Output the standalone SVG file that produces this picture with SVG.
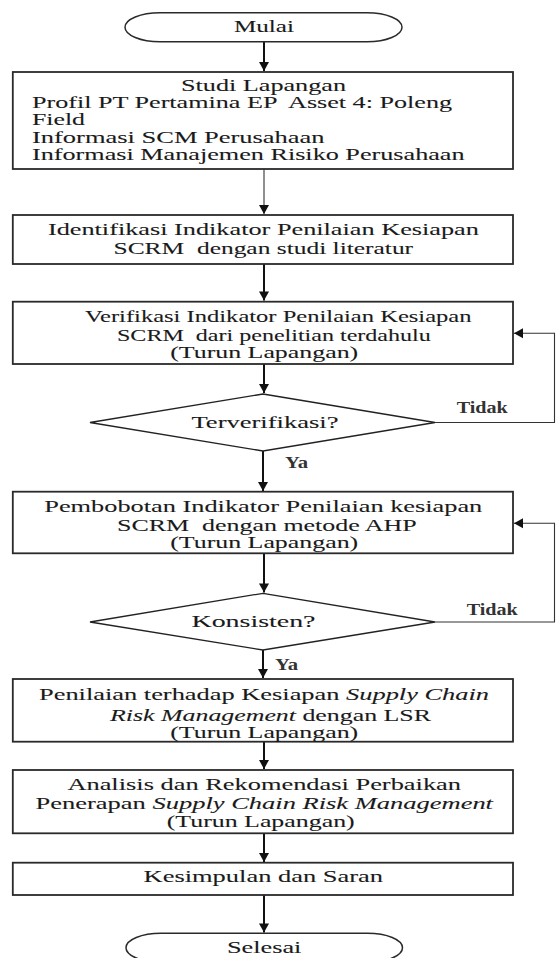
<svg xmlns="http://www.w3.org/2000/svg" width="556" height="958" viewBox="0 0 556 958">
<style>
  .bg{fill:#fff}
  .box{fill:#fff;stroke:#2a2a2a;stroke-width:1.8}
  .term{fill:#fff;stroke:#2a2a2a;stroke-width:1.5}
  .dia{fill:#fff;stroke:#222;stroke-width:1.3}
  .t{font-family:"Liberation Serif","Times New Roman",serif;font-size:16px;fill:#1a1a1a;stroke:#1a1a1a;stroke-width:0.08}
  .lbl{font-family:"Liberation Serif","Times New Roman",serif;font-size:16px;font-weight:bold;fill:#333}
  .it{font-style:italic}
  .c{fill:none;stroke:#111;stroke-width:2}
  .ct{fill:none;stroke:#333;stroke-width:1.1}
</style>
<defs>
  <marker id="ah" markerUnits="userSpaceOnUse" markerWidth="12" markerHeight="12" viewBox="0 0 12 12" refX="10" refY="6" orient="auto">
    <path d="M1,1 L10,6 L1,11 Z" fill="#111"/>
  </marker>
</defs>
<rect class="bg" x="0" y="0" width="556" height="958"/>

<g id="connectors">
  <path class="c" d="M264,42 V71" marker-end="url(#ah)"/>
  <path class="ct" d="M264,169 V214" marker-end="url(#ah)"/>
  <path class="c" d="M264,264 V300.5" marker-end="url(#ah)"/>
  <path class="c" d="M264,364 V393" marker-end="url(#ah)"/>
  <path class="c" d="M263,451 V491" marker-end="url(#ah)"/>
  <path class="c" d="M264,553.3 V592.5" marker-end="url(#ah)"/>
  <path class="c" d="M263,650 V678" marker-end="url(#ah)"/>
  <path class="c" d="M264,741.7 V769" marker-end="url(#ah)"/>
  <path class="c" d="M264,833.3 V862" marker-end="url(#ah)"/>
  <path class="c" d="M264,895 V932.5" marker-end="url(#ah)"/>
  <path class="ct" d="M435,422.5 H554.5 V333.3 H514" marker-end="url(#ah)"/>
  <path class="ct" d="M435,622 H554.5 V523.3 H514" marker-end="url(#ah)"/>
  <g transform="scale(1.25 1)">
    <text class="lbl" x="365.36" y="413.5" textLength="40.8" lengthAdjust="spacingAndGlyphs">Tidak</text>
    <text class="lbl" x="373.36" y="615.5" textLength="40.8" lengthAdjust="spacingAndGlyphs">Tidak</text>
    <text class="lbl" x="228" y="468.5" textLength="18.4" lengthAdjust="spacingAndGlyphs">Ya</text>
    <text class="lbl" x="220" y="670.5" textLength="18.4" lengthAdjust="spacingAndGlyphs">Ya</text>
  </g>
</g>

<g id="mulai">
  <path class="term" d="M160,12.7 H367 A35,14.5 0 0 1 367,41.7 H160 A35,14.5 0 0 1 160,12.7 Z"/>
  <text class="t" transform="scale(1.65 1)" x="141.82" y="32" textLength="36.36" lengthAdjust="spacingAndGlyphs">Mulai</text>
</g>

<g id="studi-lapangan">
  <rect class="box" x="12.8" y="72" width="500.2" height="97"/>
  <g transform="scale(1.65 1)">
    <text class="t" x="109.7" y="91" textLength="100" lengthAdjust="spacingAndGlyphs">Studi Lapangan</text>
    <text class="t" x="19.39" y="108.5" textLength="254.55" lengthAdjust="spacingAndGlyphs" xml:space="preserve">Profil PT Pertamina EP  Asset 4: Poleng</text>
    <text class="t" x="19.39" y="125.5" textLength="32.12" lengthAdjust="spacingAndGlyphs">Field</text>
    <text class="t" x="19.39" y="143" textLength="177.33" lengthAdjust="spacingAndGlyphs">Informasi SCM Perusahaan</text>
    <text class="t" x="19.39" y="160" textLength="262.18" lengthAdjust="spacingAndGlyphs">Informasi Manajemen Risiko Perusahaan</text>
  </g>
</g>

<g id="identifikasi">
  <rect class="box" x="12.8" y="215" width="500.2" height="49"/>
  <g transform="scale(1.65 1)">
    <text class="t" x="29.03" y="235" textLength="261.21" lengthAdjust="spacingAndGlyphs">Identifikasi Indikator Penilaian Kesiapan</text>
    <text class="t" x="68.79" y="254" textLength="181.58" lengthAdjust="spacingAndGlyphs" xml:space="preserve">SCRM  dengan studi literatur</text>
  </g>
</g>

<g id="verifikasi">
  <rect class="box" x="12.8" y="301.7" width="500.2" height="62.3"/>
  <g transform="scale(1.65 1)">
    <text class="t" x="51.52" y="321.7" textLength="234.24" lengthAdjust="spacingAndGlyphs">Verifikasi Indikator Penilaian Kesiapan</text>
    <text class="t" x="70.91" y="340.7" textLength="190.18" lengthAdjust="spacingAndGlyphs" xml:space="preserve">SCRM  dari penelitian terdahulu</text>
    <text class="t" x="103.15" y="358.3" textLength="113.94" lengthAdjust="spacingAndGlyphs">(Turun Lapangan)</text>
  </g>
</g>

<g id="terverifikasi">
  <path class="dia" d="M263,394 L435,422.5 L263,451 L90,422.5 Z"/>
  <text class="t" transform="scale(1.65 1)" x="116.06" y="428.3" textLength="89.09" lengthAdjust="spacingAndGlyphs">Terverifikasi?</text>
</g>

<g id="pembobotan">
  <rect class="box" x="12.8" y="491.7" width="500.2" height="61.6"/>
  <g transform="scale(1.65 1)">
    <text class="t" x="26.85" y="511.7" textLength="265.45" lengthAdjust="spacingAndGlyphs">Pembobotan Indikator Penilaian kesiapan</text>
    <text class="t" x="70.91" y="530.7" textLength="181.64" lengthAdjust="spacingAndGlyphs" xml:space="preserve">SCRM  dengan metode AHP</text>
    <text class="t" x="103.15" y="548.3" textLength="113.94" lengthAdjust="spacingAndGlyphs">(Turun Lapangan)</text>
  </g>
</g>

<g id="konsisten">
  <path class="dia" d="M263,593.3 L435,622 L263,650 L90,622 Z"/>
  <text class="t" transform="scale(1.65 1)" x="116.06" y="627" textLength="75.15" lengthAdjust="spacingAndGlyphs">Konsisten?</text>
</g>

<g id="penilaian">
  <rect class="box" x="12.8" y="679" width="500.2" height="62.7"/>
  <g transform="scale(1.65 1)">
    <text class="t" x="23.64" y="700" textLength="272.73" lengthAdjust="spacingAndGlyphs">Penilaian terhadap Kesiapan <tspan class="it">Supply Chain</tspan></text>
    <text class="t" x="66.67" y="720.7" textLength="194.55" lengthAdjust="spacingAndGlyphs"><tspan class="it">Risk Management</tspan> dengan LSR</text>
    <text class="t" x="103.15" y="738.3" textLength="113.94" lengthAdjust="spacingAndGlyphs">(Turun Lapangan)</text>
  </g>
</g>

<g id="analisis">
  <rect class="box" x="12.8" y="770" width="500.2" height="63.3"/>
  <g transform="scale(1.65 1)">
    <text class="t" x="40.85" y="790" textLength="238.55" lengthAdjust="spacingAndGlyphs">Analisis dan Rekomendasi Perbaikan</text>
    <text class="t" x="21.52" y="809" textLength="277.27" lengthAdjust="spacingAndGlyphs">Penerapan <tspan class="it">Supply Chain Risk Management</tspan></text>
    <text class="t" x="101.03" y="826.7" textLength="113.94" lengthAdjust="spacingAndGlyphs">(Turun Lapangan)</text>
  </g>
</g>

<g id="kesimpulan">
  <rect class="box" x="12.8" y="862.7" width="500.2" height="32.3"/>
  <text class="t" transform="scale(1.65 1)" x="87.03" y="881.7" textLength="145.09" lengthAdjust="spacingAndGlyphs">Kesimpulan dan Saran</text>
</g>

<g id="selesai">
  <path class="term" d="M161,933.3 H367.5 A35,14.5 0 0 1 367.5,962.3 H161 A35,14.5 0 0 1 161,933.3 Z"/>
  <text class="t" transform="scale(1.65 1)" x="137.58" y="953" textLength="45.09" lengthAdjust="spacingAndGlyphs">Selesai</text>
</g>
</svg>
